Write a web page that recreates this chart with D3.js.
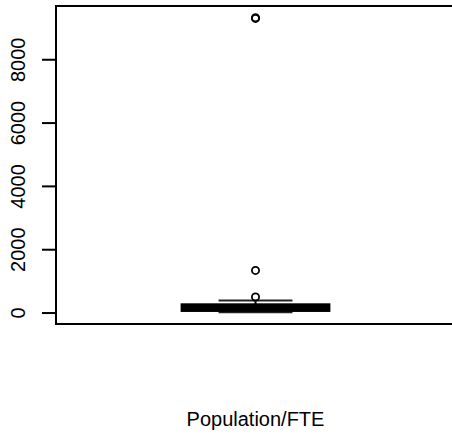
<!DOCTYPE html>
<html>
<head>
<meta charset="utf-8">
<script src="https://cdn.jsdelivr.net/npm/d3@7"></script>
<style>
  html, body { margin: 0; padding: 0; background: #fff; }
  svg { display: block; }
  text { font-family: "Liberation Sans", Arial, sans-serif; fill: #000; }
</style>
</head>
<body>
<div id="chart"></div>
<script>
// ---- data ----
const categories = ["Population/FTE"];
// [lower whisker, Q1, median, Q3, upper whisker]
const boxStats = [10, 50, 160, 260, 380];
const outliers = [490, 1330, 9290, 9310];
const yTicks = [0, 2000, 4000, 6000, 8000];

// ---- layout ----
const W = 452, H = 434;
const plot = { left: 56, right: 455, top: 6, bottom: 324 };

const svg = d3.select("#chart").append("svg")
  .attr("width", W).attr("height", H);

const dataMin = Math.min(boxStats[0], ...outliers);
const dataMax = Math.max(boxStats[4], ...outliers);
const pad = (dataMax - dataMin) * 0.04;

const y = d3.scaleLinear()
  .domain([dataMin - pad, dataMax + pad])
  .range([plot.bottom, plot.top]);

// x: categorical position 1..n, R-style range [0.5, n+0.5] extended by 4%
const n = categories.length;
const xr = [0.5 - 0.04 * n, n + 0.5 + 0.04 * n];
const x = d3.scaleLinear().domain(xr).range([plot.left, plot.right]);

// y axis
const yAxis = d3.axisLeft(y).tickValues(yTicks).tickFormat(d3.format("d")).tickSize(14).tickPadding(4);
const gy = svg.append("g").attr("transform", `translate(${plot.left},0)`).call(yAxis);
gy.select(".domain").remove();
gy.selectAll(".tick line").attr("stroke", "#000").attr("stroke-width", 2);
gy.selectAll(".tick text")
  .attr("font-size", 20)
  .attr("text-anchor", "middle")
  .attr("x", 0).attr("dy", 0)
  .attr("transform", "translate(-31,0) rotate(-90)");

// boxes
const boxHalf = 0.2, stapleHalf = 0.1;
categories.forEach((c, i) => {
  const cx = i + 1;
  const [lw, q1, med, q3, uw] = boxStats;
  const g = svg.append("g");
  // whiskers
  g.append("line").attr("x1", x(cx)).attr("x2", x(cx)).attr("y1", y(q3)).attr("y2", y(uw))
    .attr("stroke", "#000").attr("stroke-width", 2);
  g.append("line").attr("x1", x(cx)).attr("x2", x(cx)).attr("y1", y(q1)).attr("y2", y(lw))
    .attr("stroke", "#000").attr("stroke-width", 2);
  // staples
  [lw, uw].forEach(v => {
    g.append("line").attr("x1", x(cx - stapleHalf)).attr("x2", x(cx + stapleHalf))
      .attr("y1", y(v)).attr("y2", y(v))
      .attr("stroke", "#222").attr("stroke-width", 2);
  });
  // box
  g.append("rect").attr("x", x(cx - boxHalf)).attr("width", x(cx + boxHalf) - x(cx - boxHalf))
    .attr("y", y(q3)).attr("height", y(q1) - y(q3))
    .attr("fill", "none").attr("stroke", "#000").attr("stroke-width", 2);
  // median
  g.append("line").attr("x1", x(cx - boxHalf)).attr("x2", x(cx + boxHalf))
    .attr("y1", y(med)).attr("y2", y(med))
    .attr("stroke", "#000").attr("stroke-width", 5);
  // outliers
  g.selectAll("circle").data(outliers).join("circle")
    .attr("cx", x(cx)).attr("cy", d => y(d)).attr("r", 3.6)
    .attr("fill", "none").attr("stroke", "#000").attr("stroke-width", 1.8);
});

// plot frame
svg.append("rect").attr("x", plot.left).attr("y", plot.top)
  .attr("width", plot.right - plot.left).attr("height", plot.bottom - plot.top)
  .attr("fill", "none").attr("stroke", "#000").attr("stroke-width", 2);

// x label
svg.append("text")
  .attr("x", x(1)).attr("y", 426)
  .attr("text-anchor", "middle").attr("font-size", 20)
  .text(categories[0]);
</script>
</body>
</html>
